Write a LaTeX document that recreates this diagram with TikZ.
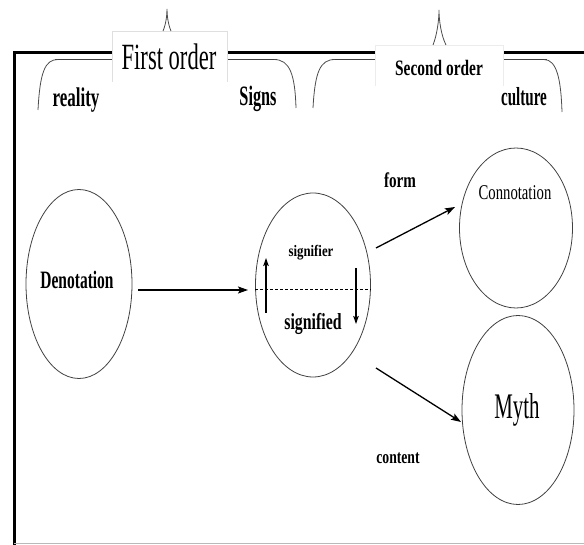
\documentclass[tikz,border=0pt]{standalone}
\usepackage{fontspec}
\usepackage{graphicx}
\setmainfont{Liberation Serif}
\usetikzlibrary{shapes.geometric,arrows.meta}
\newcommand{\cnd}[3]{\scalebox{#1}[1]{\fontsize{#2}{#2}\selectfont #3}}
\tikzset{
  oval/.style={draw=black!75, line width=0.8pt, ellipse, inner sep=0pt},
  lbl/.style={anchor=base, inner sep=0pt},
  bl/.style={lbl, font=\bfseries},
  conn/.style={line width=1.3pt, -{Stealth[length=10pt,width=7pt,inset=2pt]}},
  small/.style={line width=1.1pt, -{Stealth[length=8pt,width=5.5pt,inset=1.5pt]}},
  bracel/.style={black!75, line width=1.4pt},
  bracec/.style={black!70, line width=0.8pt},
}
\begin{document}
\begin{tikzpicture}[x=1pt,y=-1pt]
\useasboundingbox (0,0) rectangle (584,545);
% frame
\draw[line width=3pt] (14.5,545) -- (14.5,53) -- (584,53);
\draw[gray!55, line width=1pt] (14,543) -- (584,543);
% first brace
\draw[bracel] (55,59.5) -- (277,59.5);
\draw[bracec] (38,110) .. controls (40,72) and (45,59.5) .. (58,59.5);
\draw[bracec] (274,59.5) .. controls (290,59.5) and (295,75) .. (296,108);
% second brace
\draw[bracel] (332,59.5) -- (547,59.5);
\draw[bracec] (313,108) .. controls (315,72) and (320,59.5) .. (335,59.5);
\draw[bracec] (544,59.5) .. controls (557,59.5) and (561,80) .. (562,112);
% label boxes
\fill[white] (112,31) rectangle (227,82);
\draw[gray!25, line width=0.6pt] (112,82) -- (112,31) -- (227,31) -- (227,82);
\fill[white] (375,45) rectangle (503,86);
\draw[gray!15, line width=0.6pt] (375,86) -- (375,45) -- (503,45) -- (503,86);
% peaks
\draw[bracec] (163,31) .. controls (166,24) and (167,15) .. (167,9) .. controls (167,15) and (168,24) .. (171,31);
\draw[bracec] (433,45) .. controls (437,35) and (439,20) .. (439,10) .. controls (439,20) and (441,35) .. (446,45);
% header labels
\node[lbl] (first) at (169,70) {\cnd{0.61}{37}{First order}};
\node[bl] (second) at (439,76) {\cnd{0.70}{22}{Second order}};
\node[bl] (reality) at (76,107) {\cnd{0.63}{27}{reality}};
\node[bl] (signs) at (258,106) {\cnd{0.58}{28}{Signs}};
\node[bl] (culture) at (524,106) {\cnd{0.58}{26}{culture}};
% ellipses
\node[oval, minimum width=106pt, minimum height=189pt] (den) at (79,284) {};
\node[oval, minimum width=115pt, minimum height=184pt] (sig) at (313,285) {};
\node[oval, minimum width=113pt, minimum height=160pt] (con) at (516,228) {};
\node[oval, minimum width=112pt, minimum height=189pt] (myth) at (518,410) {};
% inner labels
\node[bl] (denl) at (77,289) {\cnd{0.62}{25}{Denotation}};
\node[bl] (sfr) at (311,257) {\cnd{0.8}{16}{signifier}};
\node[bl] (sfd) at (313,330) {\cnd{0.69}{23}{signified}};
\node[lbl] (conl) at (515,200) {\cnd{0.7}{21}{Connotation}};
\node[lbl] (mythl) at (517,418) {\cnd{0.58}{36}{Myth}};
\node[bl] (form) at (400,188) {\cnd{0.72}{21}{form}};
\node[bl] (content) at (398,463) {\cnd{0.72}{19}{content}};
% dashed divider
\draw[dash pattern=on 3pt off 2pt, line width=0.9pt] (sig.west) ++(0,4) coordinate (dl) -- (sig.east |- dl);
% connector endpoints
\coordinate (a1) at (138,290);
\coordinate (a2) at (248,290);
\coordinate (f1) at (376,248);
\coordinate (f2) at (455,207);
\coordinate (c1) at (376,368);
\coordinate (c2) at (461,422);
\coordinate (u1) at (266,313);
\coordinate (u2) at (266,258);
\coordinate (d1) at (356,268);
\coordinate (d2) at (356,324);
\draw[conn] (a1) -- (a2);
\draw[conn] (f1) -- (f2);
\draw[conn] (c1) -- (c2);
\draw[small] (u1) -- (u2);
\draw[small] (d1) -- (d2);
\end{tikzpicture}
\end{document}
